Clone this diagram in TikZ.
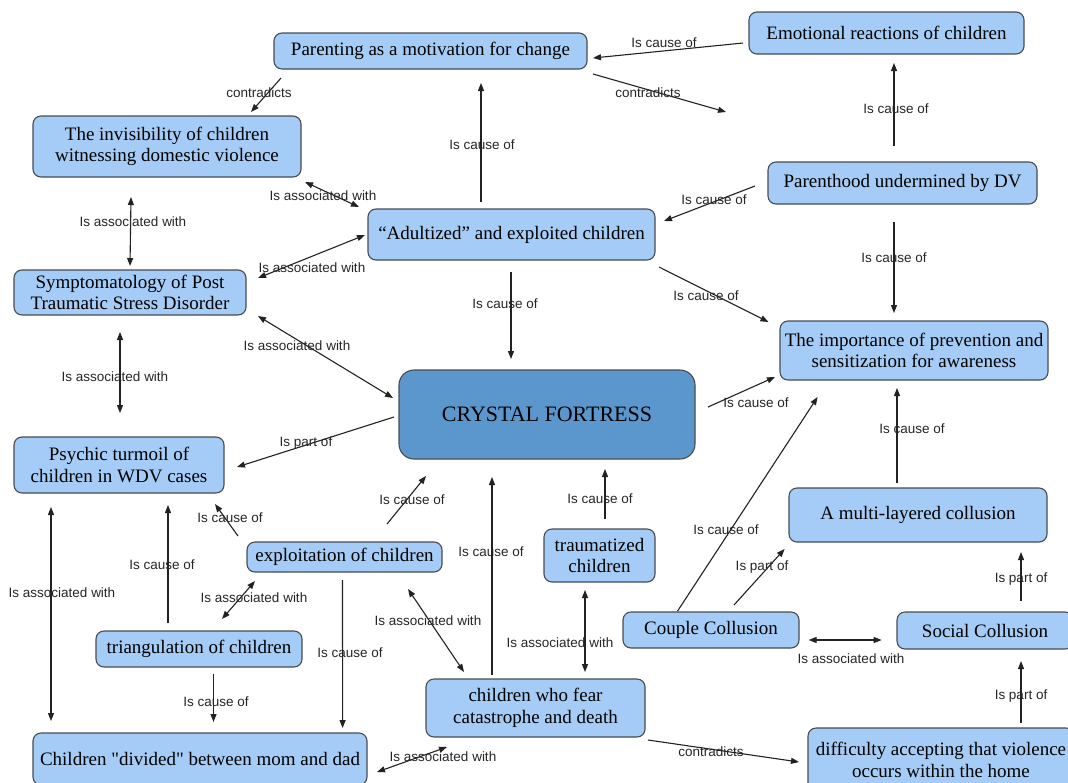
\documentclass[tikz,border=0pt]{standalone}
\usepackage{fontspec}
\setmainfont{Liberation Serif}
\newfontfamily\nodefont{Liberation Serif}
\newfontfamily\labfont{Liberation Sans}
\usetikzlibrary{arrows.meta,calc}
\definecolor{boxfill}{RGB}{164,204,246}
\definecolor{corefill}{RGB}{91,151,204}
\definecolor{boxline}{RGB}{72,76,82}
\definecolor{conline}{RGB}{34,34,34}
\tikzset{
  cbox/.style={draw=boxline, line width=1.1pt, fill=boxfill, rounded corners=8pt,
    align=center, inner sep=0pt, font=\nodefont\fontsize{19}{21.5}\selectfont, text=black},
  corebox/.style={cbox, fill=corefill, rounded corners=15pt, font=\nodefont\fontsize{22}{24}\selectfont},
  lab/.style={font=\labfont\fontsize{13.5}{15}\selectfont, text=black!85, inner sep=0pt},
  con/.style={draw=conline, line width=1.1pt},
  tip/.style={-{Triangle[length=8pt,width=6pt]}},
  tips/.style={{Triangle[length=8pt,width=6pt]}-{Triangle[length=8pt,width=6pt]}}
}
\begin{document}
\begin{tikzpicture}[x=1pt,y=-1pt]
\useasboundingbox (0,0) rectangle (1068,782);
\clip (0,0) rectangle (1068,782);
\fill[white] (0,0) rectangle (1068,782);
% nodes
\node[cbox, minimum width=313pt, minimum height=36pt] (par) at (430.5,51) {Parenting as a motivation for change};
\node[cbox, minimum width=275pt, minimum height=42pt] (emo) at (886.5,33) {Emotional reactions of children};
\node[cbox, minimum width=268pt, minimum height=61pt] (inv) at (167,146.5) {The invisibility of children\\witnessing domestic violence};
\node[cbox, minimum width=287pt, minimum height=51pt] (adu) at (511.5,234.5) {“Adultized” and exploited children};
\node[cbox, minimum width=269pt, minimum height=42pt] (pdv) at (902.5,183) {Parenthood undermined by DV};
\node[cbox, minimum width=232pt, minimum height=45pt] (sym) at (130,292.5) {Symptomatology of Post\\Traumatic Stress Disorder};
\node[cbox, minimum width=268pt, minimum height=59pt] (imp) at (914,350.5) {The importance of prevention and\\sensitization for awareness};
\node[corebox, minimum width=296pt, minimum height=89pt] (cry) at (547,414.5) {CRYSTAL FORTRESS};
\node[cbox, minimum width=210pt, minimum height=56pt] (psy) at (119,465) {Psychic turmoil of\\children in WDV cases};
\node[cbox, minimum width=195pt, minimum height=30pt] (exp) at (344.5,557) {exploitation of children};
\node[cbox, minimum width=111pt, minimum height=53pt] (tra) at (599.5,555.5) {traumatized\\children};
\node[cbox, minimum width=258pt, minimum height=54pt] (mul) at (918,515) {A multi-layered collusion};
\node[cbox, minimum width=206pt, minimum height=36pt] (tri) at (199,649) {triangulation of children};
\node[cbox, minimum width=176pt, minimum height=36pt] (cou) at (711,630) {Couple Collusion};
\node[cbox, minimum width=176pt, minimum height=37pt] (soc) at (985,630.5) {Social Collusion};
\node[cbox, minimum width=219pt, minimum height=58pt] (fea) at (535.5,708) {children who fear\\catastrophe and death};
\node[cbox, minimum width=334pt, minimum height=52pt] (div) at (200,759) {Children "divided" between mom and dad};
\node[cbox, minimum width=266pt, minimum height=64pt] (dif) at (941,760) {difficulty accepting that violence\\occurs within the home};
\coordinate (free) at (726,112);
% connectors
\draw[con,tip] ($(emo)+(-143.5,10)$) -- ($(par)+(162.5,7)$);
\draw[con,tip] ($(par)+(162.5,23)$) -- (free);
\draw[con,tip] ($(par)+(-149.5,27)$) -- ($(inv)+(84,-34.5)$);
\draw[con,tip] ($(adu)+(-30.5,-32.5)$) -- ($(par)+(50.5,32)$);
\draw[con,tips] ($(inv)+(138,35.5)$) -- ($(adu)+(-152.5,-27.5)$);
\draw[con,tips] ($(inv)+(-36,50.5)$) -- ($(sym)+(0,-26.5)$);
\draw[con,tips] ($(adu)+(-146.5,0.5)$) -- ($(sym)+(128,-14.5)$);
\draw[con,tip] ($(adu)+(-0.5,37.5)$) -- ($(cry)+(-36,-55.5)$);
\draw[con,tips] ($(sym)+(128,23.5)$) -- ($(cry)+(-154,-16.5)$);
\draw[con,tips] ($(sym)+(-10,39.5)$) -- ($(psy)+(1,-52)$);
\draw[con,tip] ($(pdv)+(-147.5,3)$) -- ($(adu)+(152.5,-13.5)$);
\draw[con,tip] ($(pdv)+(-8.5,-37)$) -- ($(emo)+(7.5,30)$);
\draw[con,tip] ($(pdv)+(-8.5,39)$) -- ($(imp)+(-20,-37.5)$);
\draw[con,tip] ($(adu)+(147.5,32.5)$) -- ($(imp)+(-145.5,-28.5)$);
\draw[con,tip] ($(cry)+(161,-7.5)$) -- ($(imp)+(-139,26.5)$);
\draw[con,tip] ($(mul)+(-21,-32)$) -- ($(imp)+(-17,37.5)$);
\draw[con,tip] ($(cry)+(-153,2.5)$) -- ($(psy)+(118,2)$);
\draw[con,tip] ($(exp)+(-106.5,-21)$) -- ($(psy)+(96,39)$);
\draw[con,tip] ($(exp)+(42.5,-33)$) -- ($(cry)+(-121,61.5)$);
\draw[con,tip] ($(fea)+(-43.5,-33)$) -- ($(cry)+(-55,62.5)$);
\draw[con,tip] ($(tra)+(5.5,-36.5)$) -- ($(cry)+(58,54.5)$);
\draw[con,tip] ($(cou)+(-33.4,-19)$) -- ($(imp)+(-96.4,46.5)$);
\draw[con,tip] ($(cou)+(23,-25)$) -- ($(mul)+(-133.4,34)$);
\draw[con,tip] ($(soc)+(36,-29.5)$) -- ($(mul)+(103,37)$);
\draw[con,tips] ($(cou)+(97.6,10)$) -- ($(soc)+(-103.3,9.5)$);
\draw[con,tip] ($(dif)+(80,-37)$) -- ($(soc)+(36,30.5)$);
\draw[con,tip] ($(fea)+(112.5,32)$) -- ($(dif)+(-142,2)$);
\draw[con,tips] ($(tra)+(-14.5,34.5)$) -- ($(fea)+(49.5,-36)$);
\draw[con,tips] ($(exp)+(63.5,32)$) -- ($(fea)+(-71.5,-36)$);
\draw[con,tip] ($(exp)+(-2,23)$) -- ($(div)+(142.6,-31)$);
\draw[con,tip] ($(tri)+(-31,-26)$) -- ($(psy)+(49,40)$);
\draw[con,tips] ($(tri)+(23,-30)$) -- ($(exp)+(-89.5,24)$);
\draw[con,tip] ($(tri)+(14.5,25)$) -- ($(div)+(13.5,-37)$);
\draw[con,tips] ($(psy)+(-68,42)$) -- ($(div)+(-149,-38)$);
\draw[con,tips] ($(div)+(177,13)$) -- ($(fea)+(-88.5,39)$);
% labels
\node[lab] (l1) at (664,43) {Is cause of};
\node[lab] (l2) at (648,93) {contradicts};
\node[lab] (l3) at (259,93) {contradicts};
\node[lab] (l4) at (482,145) {Is cause of};
\node[lab] (l5) at (323,196) {Is associated with};
\node[lab] (l6) at (133,222) {Is associated with};
\node[lab] (l7) at (312,268) {Is associated with};
\node[lab] (l8) at (505,304) {Is cause of};
\node[lab] (l9) at (297,346) {Is associated with};
\node[lab] (l10) at (115,377) {Is associated with};
\node[lab] (l11) at (714,200) {Is cause of};
\node[lab] (l12) at (896,109) {Is cause of};
\node[lab] (l13) at (894,258) {Is cause of};
\node[lab] (l14) at (706,296) {Is cause of};
\node[lab] (l15) at (756,403) {Is cause of};
\node[lab] (l16) at (912,429) {Is cause of};
\node[lab] (l17) at (306,443) {Is part of};
\node[lab] (l18) at (230,518) {Is cause of};
\node[lab] (l19) at (412,500) {Is cause of};
\node[lab] (l20) at (491,552) {Is cause of};
\node[lab] (l21) at (600,499) {Is cause of};
\node[lab] (l22) at (726,530) {Is cause of};
\node[lab] (l23) at (762,567) {Is part of};
\node[lab] (l24) at (1021,579) {Is part of};
\node[lab] (l25) at (851,659) {Is associated with};
\node[lab] (l26) at (1021,696) {Is part of};
\node[lab] (l27) at (711,752) {contradicts};
\node[lab] (l28) at (560,643) {Is associated with};
\node[lab] (l29) at (428,621) {Is associated with};
\node[lab] (l30) at (350,653) {Is cause of};
\node[lab] (l31) at (162,565) {Is cause of};
\node[lab] (l32) at (254,598) {Is associated with};
\node[lab] (l33) at (216,702) {Is cause of};
\node[lab] (l34) at (62,593) {Is associated with};
\node[lab] (l35) at (443,757) {Is associated with};
\end{tikzpicture}
\end{document}
